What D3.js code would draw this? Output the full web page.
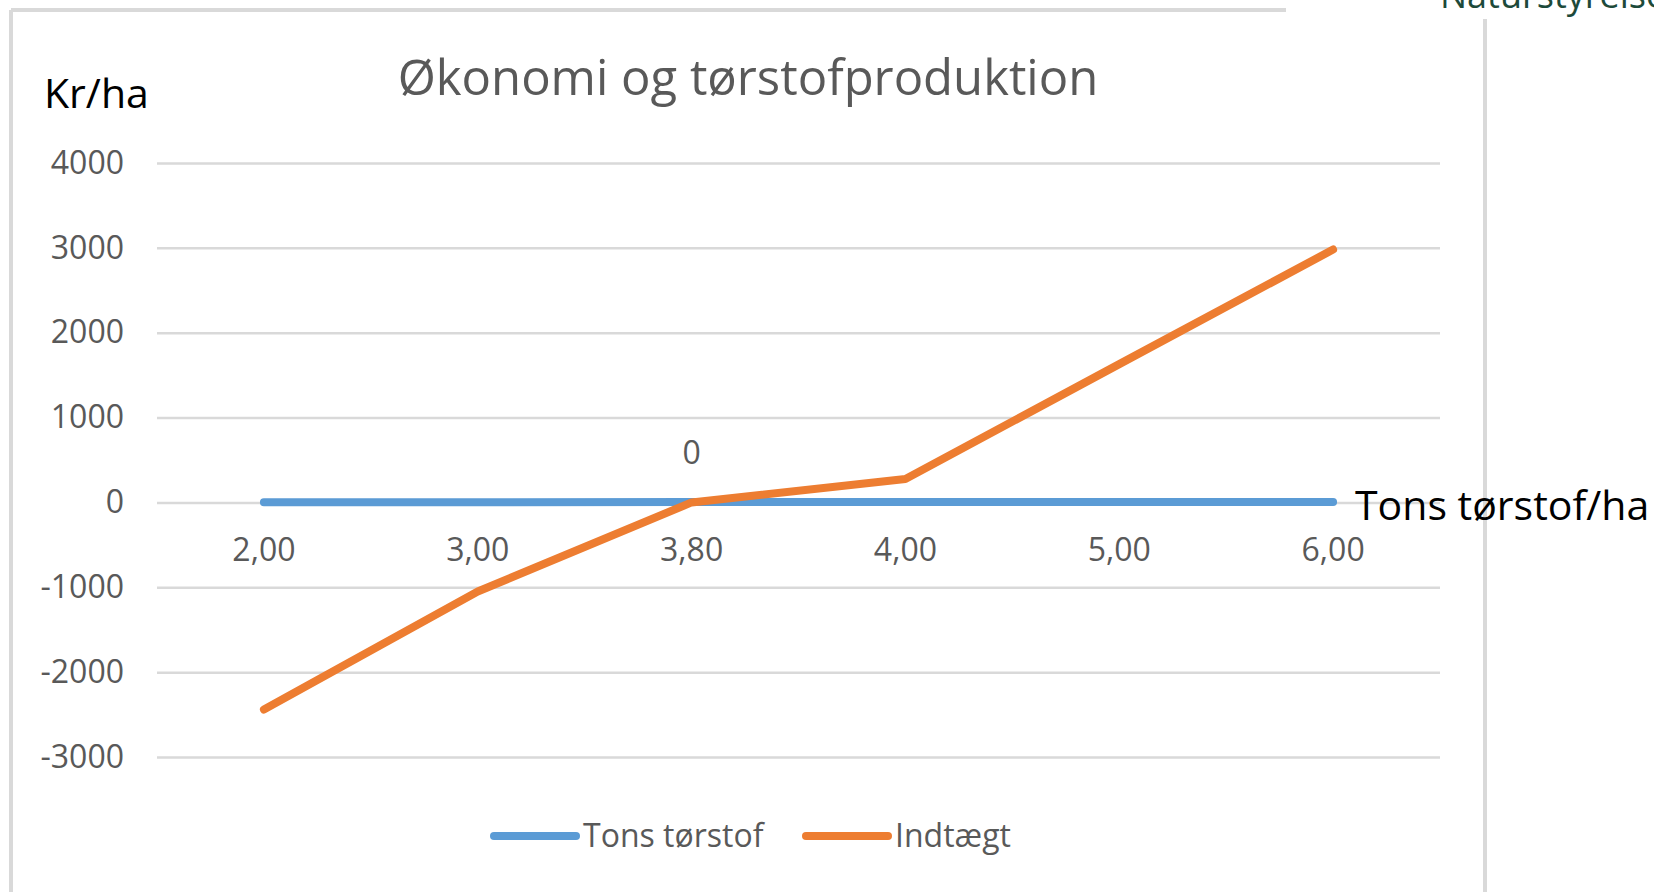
<!DOCTYPE html>
<html lang="da">
<head>
<meta charset="utf-8">
<title>Økonomi og tørstofproduktion</title>
<style type="text/css">
    body { margin: 0; background: #fff; }
    text { font-family: "Open Sans", "Noto Sans", sans-serif; }
</style>
</head>
<body>
<script src="https://d3js.org/d3.v7.min.js"></script>
<script>

    var categories = ["2,00", "3,00", "3,80", "4,00", "5,00", "6,00"];
    var tonsTorstof = [2, 3, 3.8, 4, 5, 6];
    var indtaegt = [-2440, -1050, 0, 275, 1630, 2980];
    var yTicks = [-3000, -2000, -1000, 0, 1000, 2000, 3000, 4000];
    var seriesNames = ["Tons tørstof", "Indtægt"];
    var seriesColors = ["#5b9bd5", "#ed7d31"];

    var W = 1654, H = 892;
    var plot = {left: 157, right: 1440, top: 163, bottom: 757};

    var svg = d3.select("body").append("svg")
        .attr("width", W)
        .attr("height", H);

    // slide frame bits
    var frame = svg.append("g").attr("stroke", "#d9d9d9").attr("stroke-width", 4);
    frame.append("line").attr("x1", 11).attr("y1", 10).attr("x2", 1286).attr("y2", 10);
    frame.append("line").attr("x1", 11).attr("y1", 10).attr("x2", 11).attr("y2", H);
    frame.append("line").attr("x1", 1485).attr("y1", 19).attr("x2", 1485).attr("y2", H);

    // logo text, cut by the top edge as in the slide
    svg.append("text")
        .attr("x", 1440).attr("y", 8)
        .attr("font-size", 36)
        .attr("fill", "#1d4a3a")
        .text("Naturstyrelsen");

    var yScale = d3.scaleLinear()
        .domain([-3000, 4000])
        .range([plot.bottom, plot.top]);

    var xScale = d3.scaleBand()
        .domain(categories)
        .range([plot.left, plot.right]);

    function xPos(i) { return xScale(categories[i]) + xScale.bandwidth() / 2; }

    // y axis + gridlines
    var yAxis = d3.axisLeft(yScale)
        .tickValues(yTicks)
        .tickSize(-(plot.right - plot.left))
        .tickPadding(33);

    var yAxisGroup = svg.append("g")
        .attr("transform", "translate(" + plot.left + ",0)")
        .call(yAxis);
    yAxisGroup.select(".domain").remove();
    yAxisGroup.selectAll(".tick line")
        .attr("stroke", "#d9d9d9")
        .attr("stroke-width", 2.5);
    yAxisGroup.selectAll(".tick text")
        .attr("fill", "#595959")
        .attr("font-size", 32)
        .attr("font-family", "'Open Sans', sans-serif")
        .text(function(d){ return d < 0 ? "-" + Math.abs(d) : d; });

    // x axis labels sit under the zero line
    var xAxis = d3.axisBottom(xScale).tickSize(0).tickPadding(36);
    var xAxisGroup = svg.append("g")
        .attr("transform", "translate(0," + yScale(0) + ")")
        .call(xAxis);
    xAxisGroup.select(".domain").remove();
    xAxisGroup.selectAll(".tick text")
        .attr("fill", "#595959")
        .attr("font-size", 32)
        .attr("font-family", "'Open Sans', sans-serif");

    var line = d3.line()
        .x(function(d, i){ return xPos(i); })
        .y(function(d){ return yScale(d); });

    [tonsTorstof, indtaegt].forEach(function(s, k){
        svg.append("path")
            .datum(s)
            .attr("d", line)
            .attr("fill", "none")
            .attr("stroke", seriesColors[k])
            .attr("stroke-width", 8)
            .attr("stroke-linecap", "round")
            .attr("stroke-linejoin", "round");
    });

    // data label on 3,80
    svg.append("text")
        .attr("x", xPos(2))
        .attr("y", yScale(indtaegt[2]) - 38)
        .attr("text-anchor", "middle")
        .attr("font-size", 32)
        .attr("fill", "#595959")
        .text(indtaegt[2]);

    // title
    svg.append("text")
        .attr("x", 748).attr("y", 95)
        .attr("text-anchor", "middle")
        .attr("font-size", 49)
        .attr("fill", "#595959")
        .text("Økonomi og tørstofproduktion");

    // axis titles
    svg.append("text")
        .attr("x", 44).attr("y", 108)
        .attr("font-size", 41)
        .attr("fill", "#000")
        .text("Kr/ha");
    svg.append("text")
        .attr("x", 1355).attr("y", 520)
        .attr("font-size", 41)
        .attr("fill", "#000")
        .text("Tons tørstof/ha");

    // legend
    var legend = svg.append("g");
    var legendX = [494, 806];
    seriesNames.forEach(function(n, k){
        legend.append("line")
            .attr("x1", legendX[k]).attr("x2", legendX[k] + 82)
            .attr("y1", 836).attr("y2", 836)
            .attr("stroke", seriesColors[k])
            .attr("stroke-width", 8)
            .attr("stroke-linecap", "round");
        legend.append("text")
            .attr("x", legendX[k] + 89).attr("y", 847)
            .attr("font-size", 32)
            .attr("fill", "#595959")
            .text(n);
    });

</script>
</body>
</html>
